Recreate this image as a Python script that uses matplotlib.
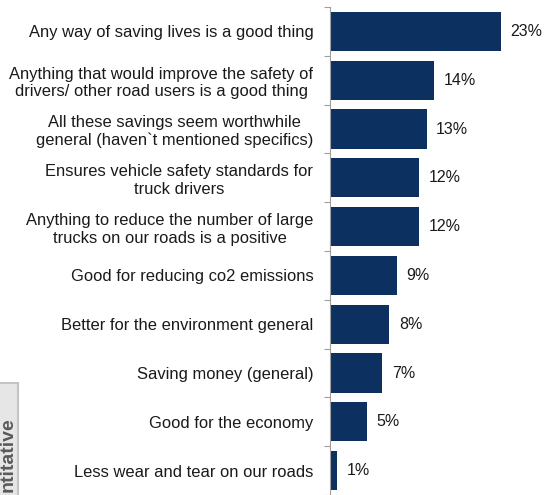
import matplotlib.pyplot as plt
from matplotlib.patches import Rectangle
import numpy as np

plt.rcParams['font.family'] = ['Liberation Sans', 'DejaVu Sans']

reasons = [
    "Any way of saving lives is a good thing",
    "Anything that would improve the safety of\ndrivers/ other road users is a good thing",
    "All these savings seem worthwhile\ngeneral (haven`t mentioned specifics)",
    "Ensures vehicle safety standards for\ntruck drivers",
    "Anything to reduce the number of large\ntrucks on our roads is a positive",
    "Good for reducing co2 emissions",
    "Better for the environment general",
    "Saving money (general)",
    "Good for the economy",
    "Less wear and tear on our roads",
]
pct = [23, 14, 13, 12, 12, 9, 8, 7, 5, 1]

bar_color = "#0c3060"
W, H = 545, 495

fig = plt.figure(figsize=(W / 100, H / 100), dpi=100)
ax = fig.add_axes([330 / W, 0, 208 / W, 1 - 7 / H])

y = np.arange(len(reasons))
ax.barh(y, pct, height=0.8, color=bar_color)
ax.set_ylim(len(reasons) - 0.5, -0.5)
ax.set_xlim(0, 28)

for yi, v in zip(y, pct):
    ax.text(v + 1.3, yi, f"{v}%", va="center", ha="left", fontsize=11.5, color="#1a1a1a")

ax.set_yticks(y)
ax.set_yticklabels(reasons, fontsize=11.9, color="#1a1a1a", linespacing=1.2,
                   multialignment="center")
ax.tick_params(axis="y", which="major", length=0, pad=12)
ax.set_yticks(np.arange(len(reasons) + 1) - 0.5, minor=True)
ax.tick_params(axis="y", which="minor", length=4, color="#a0a0a0", width=0.8)
ax.set_xticks([])

for side in ["top", "right", "bottom"]:
    ax.spines[side].set_visible(False)
ax.spines["left"].set_color("#a0a0a0")
ax.spines["left"].set_linewidth(0.8)

# grey side tab at the lower left
fig.add_artist(Rectangle((-0.01, -0.01), 18 / W + 0.01, (H - 383) / H + 0.01,
                         transform=fig.transFigure, facecolor="#e6e6e6",
                         edgecolor="#c4c4c4", linewidth=1.5))
fig.text(17 / W, 3 / H, "ntitative", rotation=90, ha="right", va="bottom",
         fontsize=14, fontweight="bold", color="#5a5a5a")

fig.savefig("out.png", dpi=100)
